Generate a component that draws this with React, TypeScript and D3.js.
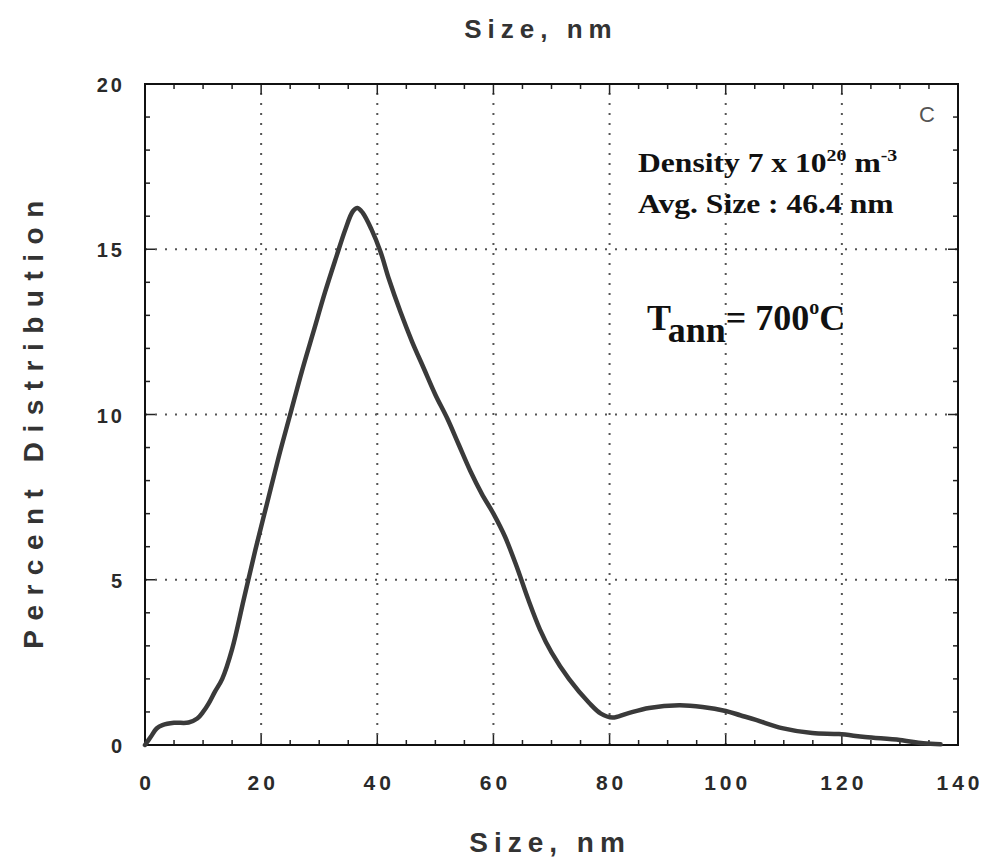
import React from "react";
import * as d3 from "d3";

// ---- data ----
const sizeNm = [0, 1, 2, 3, 5, 7.5, 9, 10, 11, 12, 13.3, 15, 17, 19, 21, 23, 25, 27, 29, 31, 33, 34.5, 35.8, 36.6, 37.5, 39, 40.6, 42, 44, 46, 48, 50, 52, 54, 56, 58, 60, 62, 64, 66, 68, 70, 73, 76.5, 78.5, 80.5, 83, 86.8, 92, 96, 100, 102.5, 105.2, 109.7, 114.9, 119.5, 124, 130, 134, 137];
const percentDist = [0, 0.25, 0.5, 0.6, 0.67, 0.68, 0.8, 1.0, 1.27, 1.6, 2.0, 2.9, 4.4, 5.9, 7.3, 8.7, 10.0, 11.3, 12.5, 13.7, 14.8, 15.6, 16.15, 16.25, 16.1, 15.6, 14.9, 14.1, 13.1, 12.2, 11.4, 10.6, 9.9, 9.1, 8.3, 7.6, 7.0, 6.3, 5.4, 4.4, 3.5, 2.8, 2.0, 1.27, 0.95, 0.83, 0.95, 1.12, 1.2, 1.15, 1.03, 0.9, 0.76, 0.51, 0.36, 0.33, 0.24, 0.15, 0.05, 0.02];
const xTickValues = [0, 20, 40, 60, 80, 100, 120, 140];
const yTickValues = [0, 5, 10, 15, 20];
const xMinorValues = d3.range(0, 141, 5);
const yMinorValues = d3.range(0, 21, 1);

const W = 989;
const H = 863;
const L = 145, R = 958, T = 84, B = 745;

export default function App() {
  const x = d3.scaleLinear().domain([0, 140]).range([L, R]);
  const y = d3.scaleLinear().domain([0, 20]).range([B, T]);
  const pts: [number, number][] = sizeNm.map((s, i) => [s, percentDist[i]]);
  const line = d3
    .line<[number, number]>()
    .x((d) => x(d[0]))
    .y((d) => y(d[1]))
    .curve(d3.curveCatmullRom.alpha(0.5));

  const tickFont = "'Liberation Sans', Arial, sans-serif";
  const serif = "'Liberation Serif', 'Times New Roman', serif";

  return (
    <svg
      width={W}
      height={H}
      style={{ position: "absolute", left: 0, top: 0, background: "#fff" }}
    >
      {/* grid */}
      <g stroke="#555" strokeWidth={2} strokeDasharray="2,8">
        {xTickValues.slice(1, -1).map((v) => (
          <line key={"gx" + v} x1={x(v)} x2={x(v)} y1={B} y2={T} />
        ))}
        {yTickValues.slice(1, -1).map((v) => (
          <line key={"gy" + v} x1={L} x2={R} y1={y(v)} y2={y(v)} />
        ))}
      </g>

      {/* minor / major ticks */}
      <g stroke="#222" strokeWidth={1.5}>
        {xMinorValues.map((v) => {
          const major = v % 20 === 0;
          const len = major ? 10 : 5;
          return (
            <g key={"tx" + v}>
              <line x1={x(v)} x2={x(v)} y1={B} y2={B - len} />
              <line x1={x(v)} x2={x(v)} y1={T} y2={T + len} />
            </g>
          );
        })}
        {yMinorValues.map((v) => {
          const major = v % 5 === 0;
          const len = major ? 10 : 5;
          return (
            <g key={"ty" + v}>
              <line x1={L} x2={L + len} y1={y(v)} y2={y(v)} />
              <line x1={R} x2={R - len} y1={y(v)} y2={y(v)} />
            </g>
          );
        })}
      </g>

      {/* frame */}
      <rect x={L} y={T} width={R - L} height={B - T} fill="none" stroke="#111" strokeWidth={2} />

      {/* curve */}
      <path d={line(pts) || ""} fill="none" stroke="#3a3a3a" strokeWidth={4.5} strokeLinejoin="round" strokeLinecap="round" />

      {/* x tick labels */}
      <g fontFamily={tickFont} fontSize={21} fontWeight="bold" fill="#2a2a2a" textAnchor="middle" style={{ letterSpacing: "4px" }}>
        {xTickValues.map((v) => (
          <text key={"xl" + v} x={x(v) + 2} y={790}>
            {v}
          </text>
        ))}
      </g>
      {/* y tick labels */}
      <g fontFamily={tickFont} fontSize={20} fontWeight="bold" fill="#2a2a2a" textAnchor="end" style={{ letterSpacing: "3px" }}>
        {yTickValues.map((v) => (
          <text key={"yl" + v} x={125} y={y(v) + 8}>
            {v}
          </text>
        ))}
      </g>

      {/* axis titles */}
      <text x={550} y={852} textAnchor="middle" fontFamily={tickFont} fontWeight="bold" fontSize={28} fill="#333" style={{ letterSpacing: "6px" }}>
        Size, nm
      </text>
      <text x={541} y={38} textAnchor="middle" fontFamily={tickFont} fontWeight="bold" fontSize={26} fill="#333" style={{ letterSpacing: "6px" }}>
        Size, nm
      </text>
      <text
        transform={`translate(43,420) rotate(-90)`}
        textAnchor="middle"
        fontFamily={tickFont}
        fontWeight="bold"
        fontSize={28}
        fill="#333"
        style={{ letterSpacing: "9.5px" }}
      >
        Percent Distribution
      </text>

      {/* panel label */}
      <text x={927} y={122} textAnchor="middle" fontFamily={tickFont} fontSize={22} fill="#555">
        C
      </text>

      {/* annotations */}
      <g transform="translate(638,172) scale(1.17,1)" fontFamily={serif} fontWeight="bold" fill="#111">
        <text x={0} y={0} fontSize={27}>
          Density 7 x 10
          <tspan fontSize={17} dy={-11}>20</tspan>
          <tspan dy={11}> m</tspan>
          <tspan fontSize={17} dy={-11}>-3</tspan>
        </text>
        <text x={0} y={41} fontSize={27}>
          Avg. Size : 46.4 nm
        </text>
      </g>
      <text x={647} y={330} fontFamily={serif} fontWeight="bold" fontSize={36} fill="#111">
        T
        <tspan dy={12}>ann</tspan>
        <tspan dy={-12}>= 700</tspan>
        <tspan fontSize={20} dy={-16}>o</tspan>
        <tspan dy={16}>C</tspan>
      </text>
    </svg>
  );
}
